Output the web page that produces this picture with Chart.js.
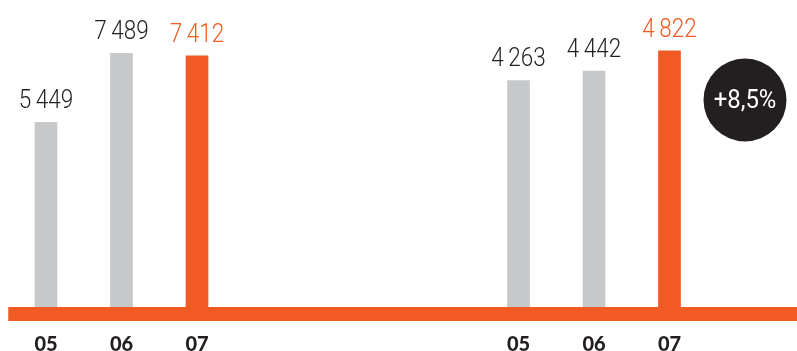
<!DOCTYPE html>
<html>
<head>
<meta charset="utf-8">
<script src="https://cdn.jsdelivr.net/npm/chart.js@4/dist/chart.umd.min.js"></script>
<style>
    html, body { margin: 0; padding: 0; background: #fff; }
    #wrap { position: relative; width: 797px; height: 351px; overflow: hidden; }
    #wrap canvas { position: absolute; top: 0; }
    #chartA { left: 0; }
    #chartB { left: 480px; }
</style>
</head>
<body>
<div id="wrap">
    <canvas id="chartA" width="480" height="351"></canvas>
    <canvas id="chartB" width="317" height="351"></canvas>
</div>
<script>
// === Data ===
const years = ['05', '06', '07'];
const firstValues = [5449, 7489, 7412];
const secondValues = [4263, 4442, 4822];
const growthText = '+8,5%';

// === Colours ===
const GREY = '#c7c8ca';
const ORANGE = '#f15a22';
const INK = '#231f20';

const barColors = years.map((_, i) => i === years.length - 1 ? ORANGE : GREY);
const labelColors = years.map((_, i) => i === years.length - 1 ? ORANGE : INK);

// 7489 -> "7 489" with a thin space
const formatValue = v => String(v).replace(/\B(?=(\d{3})+(?!\d))/g, '\u2009');

// thick orange baseline under the bars
const baselinePlugin = {
    id: 'baseline',
    beforeDatasetsDraw(chart, args, opts) {
        const { ctx, chartArea } = chart;
        const x0 = opts.fromEdge ? 0 : chartArea.left;
        ctx.save();
        ctx.fillStyle = ORANGE;
        ctx.fillRect(x0, chartArea.bottom, chart.width - x0, 14);
        ctx.restore();
    }
};

// value above every bar, slightly condensed
const valueLabels = {
    id: 'valueLabels',
    afterDatasetsDraw(chart) {
        const { ctx } = chart;
        const meta = chart.getDatasetMeta(0);
        const values = chart.data.datasets[0].data;
        meta.data.forEach((bar, i) => {
            ctx.save();
            ctx.font = '300 25px Roboto, "DejaVu Sans", sans-serif';
            ctx.textAlign = 'center';
            ctx.textBaseline = 'alphabetic';
            ctx.fillStyle = labelColors[i];
            ctx.translate(bar.x, bar.y - 14);
            ctx.scale(0.9, 1);
            ctx.fillText(formatValue(values[i]), 0, 0);
            ctx.restore();
        });
    }
};

// black badge one step to the right of the last bar
const growthBadge = {
    id: 'growthBadge',
    afterDraw(chart, args, opts) {
        if (!opts.text) return;
        const { ctx, chartArea, scales } = chart;
        const step = scales.x.getPixelForValue(1) - scales.x.getPixelForValue(0);
        const cx = scales.x.getPixelForValue(years.length - 1) + step;
        const cy = chartArea.top + 64;
        ctx.save();
        ctx.fillStyle = INK;
        ctx.beginPath();
        ctx.arc(cx, cy, 41.5, 0, Math.PI * 2);
        ctx.fill();
        ctx.fillStyle = '#fff';
        ctx.font = '400 26px Roboto, "DejaVu Sans", sans-serif';
        ctx.textAlign = 'center';
        ctx.textBaseline = 'middle';
        ctx.translate(cx, cy + 1);
        ctx.scale(0.92, 1);
        ctx.fillText(opts.text, 0, 0);
        ctx.restore();
    }
};

function makeChart(id, values, yMax, padding, pluginOpts) {
    return new Chart(document.getElementById(id), {
        type: 'bar',
        data: {
            labels: years,
            datasets: [{
                data: values,
                backgroundColor: barColors,
                barThickness: 22,
                borderWidth: 0
            }]
        },
        options: {
            responsive: false,
            animation: false,
            devicePixelRatio: 1,
            layout: { padding },
            plugins: {
                legend: { display: false },
                tooltip: { enabled: false },
                baseline: pluginOpts.baseline,
                growthBadge: pluginOpts.badge
            },
            scales: {
                x: {
                    grid: { display: false, drawTicks: false },
                    border: { display: false },
                    afterFit(scale) { scale.height = 44; },
                    ticks: {
                        padding: 26,
                        color: INK,
                        font: { family: 'Lato, "DejaVu Sans", sans-serif', size: 20, weight: '900' }
                    }
                },
                y: {
                    display: false,
                    min: 0,
                    max: yMax
                }
            }
        },
        plugins: [baselinePlugin, valueLabels, growthBadge]
    });
}

makeChart('chartA', firstValues, 8000,
    { left: 8.25, right: 245.25, top: 36, bottom: 0 },
    { baseline: { fromEdge: false }, badge: { text: '' } });

makeChart('chartB', secondValues, 5100,
    { left: 0.75, right: 89.75, top: 36, bottom: 0 },
    { baseline: { fromEdge: true }, badge: { text: growthText } });
</script>
</body>
</html>
